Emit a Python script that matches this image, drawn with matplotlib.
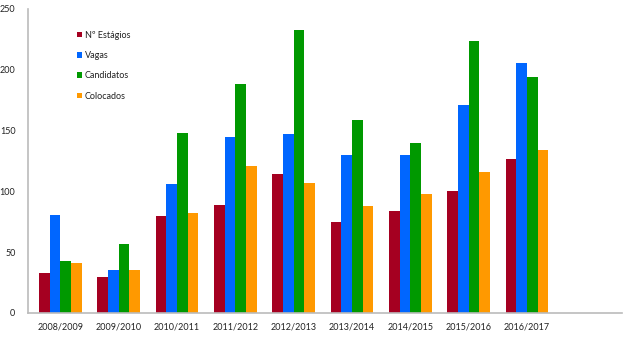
import numpy as np
import matplotlib
matplotlib.use("Agg")
import matplotlib.pyplot as plt

plt.rcParams['font.family'] = ['Lato', 'DejaVu Sans']

anos = ["2008/2009", "2009/2010", "2010/2011", "2011/2012", "2012/2013",
        "2013/2014", "2014/2015", "2015/2016", "2016/2017"]
estagios = [33, 30, 80, 89, 114, 75, 84, 100, 127]
vagas = [81, 35, 106, 145, 147, 130, 130, 171, 206]
candidatos = [43, 57, 148, 188, 233, 159, 140, 224, 194]
colocados = [41, 35, 82, 121, 107, 88, 98, 116, 134]

series = [
    ("Nº Estágios", estagios, "#A50021"),
    ("Vagas", vagas, "#0066FF"),
    ("Candidatos", candidatos, "#009900"),
    ("Colocados", colocados, "#FF9900"),
]

fig = plt.figure(figsize=(6.24, 3.37), dpi=100)
ax = fig.add_axes([28 / 624, 24 / 337, 594 / 624, 304 / 337])

x = np.arange(len(anos))
w = 0.183
for i, (nome, vals, cor) in enumerate(series):
    ax.bar(x + (i - 1.5) * w, vals, width=w, color=cor, label=nome)

ax.set_xlim(-0.555, 9.63)
ax.set_ylim(0, 250)
ax.set_yticks([0, 50, 100, 150, 200, 250])
ax.set_xticks(x)
ax.set_xticklabels(anos)
ax.tick_params(length=0, labelsize=6.5, colors="#222222")
ax.tick_params(axis='x', pad=7)
ax.tick_params(axis='y', pad=9)

for s in ["top", "right"]:
    ax.spines[s].set_visible(False)
for s in ["left", "bottom"]:
    ax.spines[s].set_color("#BBBBBB")
    ax.spines[s].set_linewidth(1.2)

# legenda dentro do gráfico, canto superior esquerdo
leg = ax.legend(loc="upper left", bbox_to_anchor=(0.068, 0.955), frameon=False,
                fontsize=6.5, handlelength=0.6, handleheight=0.6,
                handletextpad=0.3, labelspacing=1.25)
for t in leg.get_texts():
    t.set_color("#222222")

fig.savefig("out.png", dpi=100)
